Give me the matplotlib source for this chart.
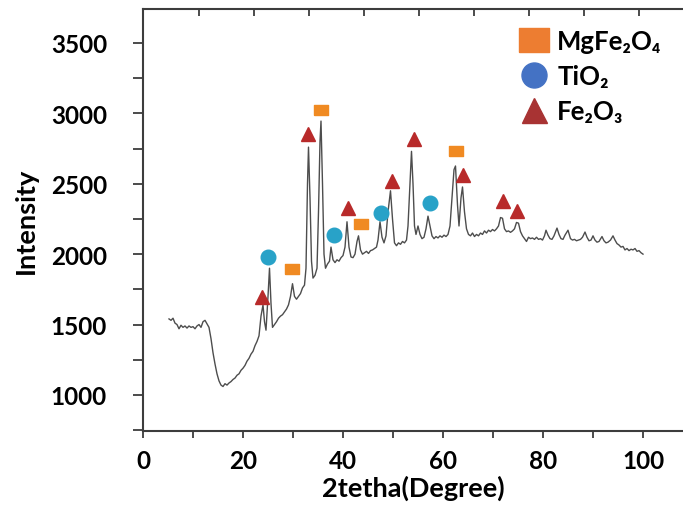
import matplotlib
matplotlib.use("Agg")
import matplotlib.pyplot as plt
from matplotlib.lines import Line2D
from matplotlib.ticker import MultipleLocator, FixedLocator, NullFormatter

plt.rcParams['font.family'] = ['Lato', 'DejaVu Sans']
plt.rcParams['font.weight'] = 'bold'

# XRD trace (2theta, intensity)
two_theta = [5.2, 5.6, 6.0, 6.4, 6.8, 7.2, 7.6, 8.0, 8.4, 8.8, 9.2, 9.6, 10.0, 10.4, 10.8, 11.2, 11.6,
             12.0, 12.4, 12.8, 13.2, 13.6, 14.0, 14.4, 14.8, 15.2, 15.6, 16.0, 16.4, 16.8, 17.2, 17.6,
             18.0, 18.4, 18.8, 19.2, 19.6, 20.0, 20.4, 20.8, 21.2, 21.6, 22.0, 22.4, 22.8, 23.2, 23.6,
             24.0, 24.3, 24.6, 25.0, 25.3, 25.6, 25.9, 26.3, 26.7, 27.1, 27.5, 27.9, 28.3, 28.7, 29.1,
             29.5, 29.9, 30.3, 30.7, 31.1, 31.5, 31.9, 32.3, 32.6, 32.9, 33.1, 33.4, 33.7, 34.0, 34.4,
             34.8, 35.1, 35.4, 35.6, 35.9, 36.2, 36.5, 36.9, 37.3, 37.6, 38.0, 38.4, 38.8, 39.2, 39.6,
             40.0, 40.4, 40.8, 41.2, 41.6, 42.0, 42.4, 42.8, 43.1, 43.5, 43.9, 44.3, 44.7, 45.1, 45.5,
             45.9, 46.3, 46.7, 47.0, 47.4, 47.8, 48.2, 48.6, 49.0, 49.5, 49.9, 50.3, 50.7, 51.1, 51.5,
             51.9, 52.3, 52.7, 53.0, 53.4, 53.7, 54.0, 54.3, 54.6, 55.0, 55.4, 55.8, 56.2, 56.6, 57.0,
             57.4, 57.8, 58.2, 58.6, 59.0, 59.4, 59.8, 60.2, 60.6, 61.0, 61.4, 61.8, 62.2, 62.5, 62.9,
             63.2, 63.6, 63.9, 64.3, 64.7, 65.1, 65.5, 65.9, 66.3, 66.7, 67.1, 67.5, 67.9, 68.3, 68.7,
             69.1, 69.5, 69.9, 70.3, 70.7, 71.1, 71.5, 71.9, 72.3, 72.7, 73.1, 73.5, 73.9, 74.3, 74.7,
             75.1, 75.5, 75.9, 76.3, 76.7, 77.1, 77.5, 77.9, 78.3, 78.7, 79.1, 79.5, 79.9, 80.3, 80.6,
             81.0, 81.4, 81.8, 82.2, 82.8, 83.2, 83.6, 84.0, 84.4, 85.0, 85.5, 85.9, 86.3, 86.7, 87.1,
             87.5, 87.9, 88.4, 88.8, 89.2, 89.6, 90.0, 90.4, 90.8, 91.2, 91.8, 92.2, 92.6, 93.0, 93.5,
             94.0, 94.4, 94.8, 95.2, 95.6, 96.0, 96.4, 96.8, 97.2, 97.6, 98.0, 98.4, 98.8, 99.2, 99.6,
             100.0]
intensity = [1540, 1530, 1545, 1510, 1500, 1470, 1495, 1480, 1490, 1475, 1490, 1480, 1485, 1470, 1490, 1500, 1480,
             1520, 1530, 1505, 1480, 1400, 1300, 1220, 1150, 1100, 1070, 1060, 1080, 1070, 1085, 1095,
             1110, 1120, 1140, 1150, 1175, 1190, 1210, 1240, 1260, 1290, 1310, 1350, 1380, 1420, 1560,
             1640, 1520, 1460, 1700, 1900, 1650, 1480, 1500, 1520, 1545, 1560, 1570, 1590, 1610, 1640,
             1700, 1790, 1700, 1680, 1700, 1720, 1760, 1780, 1900, 2500, 2760, 2400, 1950, 1830, 1850,
             1900, 2300, 2800, 2945, 2500, 2000, 1900, 1930, 1950, 2050, 1960, 1940, 1960, 1950, 1975,
             1990, 2050, 2230, 2050, 1980, 1975, 2000, 2090, 2130, 2030, 2000, 2010, 2020, 2005, 2025,
             2030, 2040, 2050, 2100, 2230, 2120, 2080, 2130, 2300, 2450, 2250, 2080, 2060, 2080, 2070,
             2090, 2080, 2100, 2200, 2500, 2730, 2500, 2200, 2140, 2200, 2140, 2110, 2120, 2180, 2270,
             2200, 2130, 2110, 2125, 2115, 2130, 2120, 2135, 2125, 2140, 2200, 2400, 2600, 2626, 2350,
             2200, 2400, 2477, 2300, 2180, 2140, 2130, 2150, 2125, 2140, 2130, 2150, 2140, 2165, 2150,
             2170, 2160, 2175, 2165, 2180, 2200, 2260, 2255, 2180, 2160, 2165, 2155, 2165, 2180, 2225,
             2220, 2160, 2130, 2110, 2090, 2120, 2110, 2115, 2105, 2120, 2105, 2110, 2100, 2130, 2170,
             2135, 2110, 2105, 2130, 2185, 2140, 2110, 2105, 2135, 2170, 2110, 2100, 2105, 2095, 2100,
             2105, 2120, 2157, 2120, 2095, 2100, 2130, 2100, 2085, 2090, 2125, 2095, 2080, 2085, 2100,
             2130, 2100, 2075, 2065, 2050, 2055, 2030, 2040, 2025, 2035, 2030, 2040, 2020, 2025, 2010,
             2000]

# Phase markers
mgfe_x = [29.8, 35.6, 43.6, 62.6]
mgfe_y = [1895, 3024, 2214, 2733]
tio2_x = [25.0, 38.2, 47.6, 57.4]
tio2_y = [1980, 2136, 2293, 2364]
fe2o3_x = [23.8, 33.0, 41.0, 49.8, 54.2, 64.0, 72.0, 74.8]
fe2o3_y = [1696, 2853, 2328, 2520, 2818, 2562, 2378, 2307]

legend_labels = ["MgFe\u2082O\u2084", "TiO\u2082", "Fe\u2082O\u2083"]
x_ticks = [0, 20, 40, 60, 80, 100]
y_ticks = [1000, 1500, 2000, 2500, 3000, 3500]

fig = plt.figure(figsize=(6.83, 5.06), dpi=100)
ax = fig.add_axes([143/683, 1 - 432/506, 540/683, 422/506])

ax.plot(two_theta, intensity, color='#4d4d4d', lw=1.0, zorder=2)

rect = [(-1, -0.75), (1, -0.75), (1, 0.75), (-1, 0.75), (-1, -0.75)]
ax.plot(mgfe_x, mgfe_y, ls='none', marker=rect, ms=10.5, color='#F08A22', zorder=3)
ax.plot(tio2_x, tio2_y, ls='none', marker='o', ms=10.5, color='#28A2C8', zorder=3)
ax.plot(fe2o3_x, fe2o3_y, ls='none', marker='^', ms=10.5, color='#B82A2A', zorder=3)

ax.set_xlim(0, 108)
ax.set_ylim(744, 3741)
ax.xaxis.set_major_locator(FixedLocator(x_ticks))
ax.xaxis.set_minor_locator(MultipleLocator(10))
ax.yaxis.set_major_locator(FixedLocator(y_ticks))
ax.yaxis.set_minor_locator(MultipleLocator(250))

spine_c = '#3d3d3d'
ax.spines['right'].set_visible(False)
for s in ['left', 'bottom', 'top']:
    ax.spines[s].set_color(spine_c)
    ax.spines[s].set_linewidth(1.5)

ax.tick_params(axis='x', which='both', direction='out', length=5, width=1.3, color=spine_c,
               labelsize=17.5, pad=8, top=False)
ax.tick_params(axis='y', which='both', direction='out', length=7, width=1.3, color=spine_c,
               labelsize=17.5, pad=19)
for lab in ax.get_xticklabels() + ax.get_yticklabels():
    lab.set_fontweight('bold')

# top axis ticks (pointing inward)
top = ax.secondary_xaxis('top')
top.set_xticks([11.2 + 11 * k for k in range(9)])
top.xaxis.set_major_formatter(NullFormatter())
top.tick_params(direction='in', length=5, width=1.3, color=spine_c)
top.spines['top'].set_visible(False)

ax.set_xlabel('2tetha(Degree)', fontsize=19.5, fontweight='bold', labelpad=2)
ax.set_ylabel('Intensity', fontsize=19.5, fontweight='bold', labelpad=9)

leg_rect = [(-1, -0.8), (1, -0.8), (1, 0.8), (-1, 0.8), (-1, -0.8)]
handles = [
    Line2D([], [], ls='none', marker=leg_rect, ms=22, color='#ED7D31'),
    Line2D([], [], ls='none', marker='o', ms=18, color='#4472C4'),
    Line2D([], [], ls='none', marker='^', ms=18, color='#A83333'),
]
leg = ax.legend(handles, legend_labels, loc='upper left', bbox_to_anchor=(0.66, 0.995),
                frameon=False, fontsize=18.5, handletextpad=0.25, labelspacing=0.42,
                borderpad=0.2, handlelength=1.3)
for t in leg.get_texts():
    t.set_fontweight('bold')

fig.savefig('out.png', dpi=100)
